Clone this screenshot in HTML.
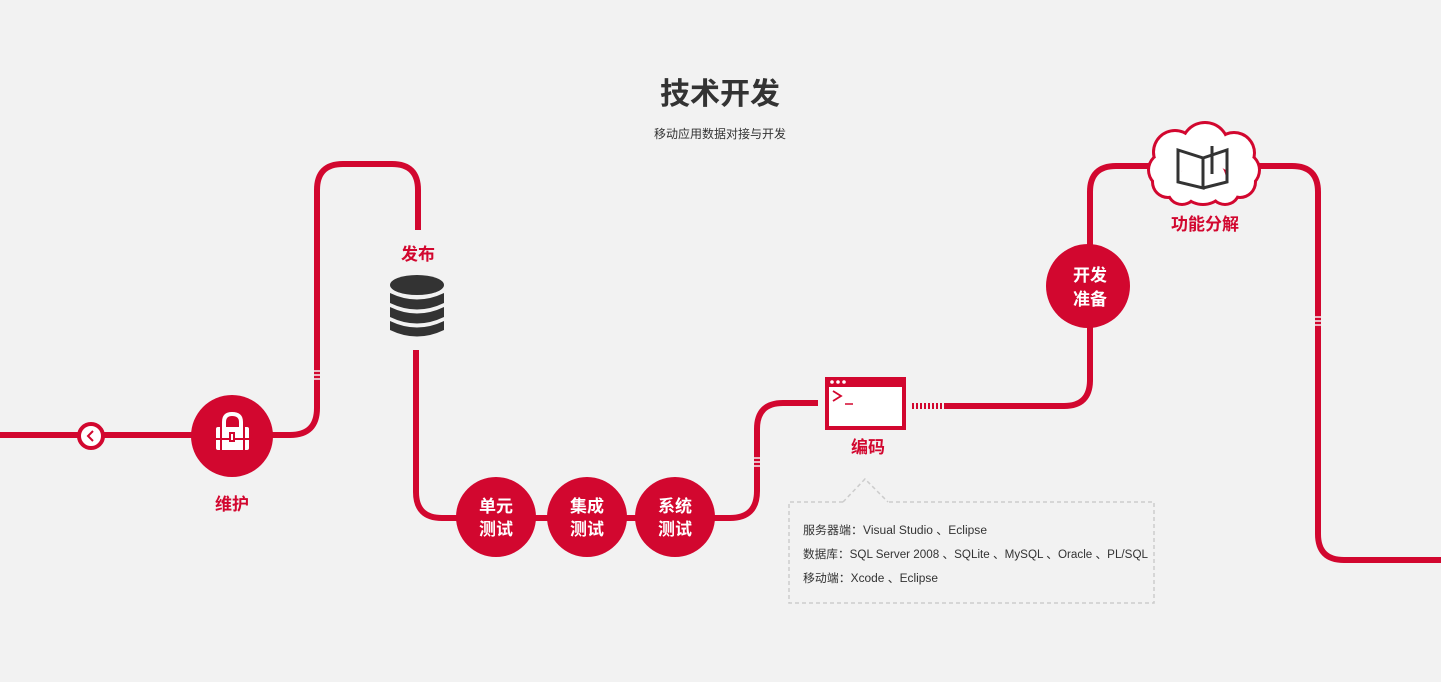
<!DOCTYPE html>
<html><head><meta charset="utf-8"><style>
html,body{margin:0;padding:0;background:#f2f2f2;}
svg{display:block;font-family:"Liberation Sans","Noto Sans CJK SC",sans-serif;}
</style></head><body>
<svg width="1441" height="682" viewBox="0 0 1441 682" xmlns="http://www.w3.org/2000/svg">
<rect width="1441" height="682" fill="#f2f2f2"/>
<text x="720" y="104" text-anchor="middle" font-size="30" fill="#333" font-weight="600">技术开发</text>
<text x="720" y="138" text-anchor="middle" font-size="12" fill="#333">移动应用数据对接与开发</text>
<g fill="none" stroke="#d2072f" stroke-width="6">
<path d="M0 435 H290 Q317 435 317 408 V190 Q317 164 343 164 H392 Q418 164 418 190 V230"/>
<path d="M416 350 V492 Q416 518 442 518 H730 Q757 518 757 491 V429 Q757 403 783 403 H818"/>
<path d="M944 406 H1064 Q1090 406 1090 380 V192 Q1090 166 1116 166 H1150"/>
<path d="M1258 166 H1292 Q1318 166 1318 192 V534 Q1318 560 1344 560 H1441"/>
</g>
<g stroke="#f2f2f2" stroke-width="1.5">
<path d="M313 371 H321 M313 375 H321 M313 379 H321"/>
<path d="M1314 317 H1322 M1314 321 H1322 M1314 325 H1322"/>
<path d="M753 458 H761 M753 462 H761 M753 466 H761"/>
</g>
<g stroke="#d2072f" stroke-width="6" stroke-dasharray="2 2"><path d="M912 406 H942"/></g>
<circle cx="91" cy="436" r="12" fill="#fff" stroke="#d2072f" stroke-width="4"/>
<path d="M93 431 L88 436 L93 441" fill="none" stroke="#d2072f" stroke-width="2"/>
<circle cx="232" cy="436" r="41" fill="#d2072f"/>
<rect x="216" y="427" width="33" height="23" rx="2" fill="#fff"/>
<path d="M224 428 V422 Q224 414 232 414 Q241 414 241 422 V428" fill="none" stroke="#fff" stroke-width="4"/>
<path d="M221 427 V450 M244 427 V450 M216 439 H249" stroke="#d2072f" stroke-width="2"/>
<rect x="229" y="432" width="6" height="10" fill="#d2072f"/><rect x="231" y="434" width="2" height="6" fill="#fff"/>
<text x="232" y="510" text-anchor="middle" font-size="17" font-weight="bold" fill="#d2072f">维护</text>
<text x="418" y="260" text-anchor="middle" font-size="17" font-weight="bold" fill="#d2072f">发布</text>
<g fill="#333">
<ellipse cx="417" cy="285" rx="27" ry="10"/>
<path d="M390 293 Q417 306 444 293 V303 Q417 316 390 303Z"/>
<path d="M390 307 Q417 320 444 307 V317 Q417 330 390 317Z"/>
<path d="M390 321 Q417 334 444 321 V330 Q417 343 390 330Z"/>
</g>
<g fill="#d2072f"><circle cx="496" cy="517" r="40"/><circle cx="587" cy="517" r="40"/><circle cx="675" cy="517" r="40"/><circle cx="1088" cy="286" r="42"/></g>
<g fill="#fff" font-size="17" font-weight="bold" text-anchor="middle">
<text x="496" y="512">单元</text><text x="496" y="535">测试</text>
<text x="587" y="512">集成</text><text x="587" y="535">测试</text>
<text x="675" y="512">系统</text><text x="675" y="535">测试</text>
<text x="1090" y="281">开发</text><text x="1090" y="305">准备</text>
</g>
<rect x="827" y="379" width="77" height="49" fill="#fff" stroke="#d2072f" stroke-width="4"/>
<rect x="825" y="377" width="81" height="10" fill="#d2072f"/>
<g fill="#fff"><circle cx="832" cy="382" r="1.8"/><circle cx="838" cy="382" r="1.8"/><circle cx="844" cy="382" r="1.8"/></g>
<path d="M833 391 L841 396 L833 401" fill="none" stroke="#d2072f" stroke-width="1.8"/>
<path d="M845 404 H853" stroke="#d2072f" stroke-width="1.5"/>
<text x="868" y="453" text-anchor="middle" font-size="17" font-weight="bold" fill="#d2072f">编码</text>
<path d="M843 502 L865 479 L888 502" fill="none" stroke="#ccc" stroke-width="1.5" stroke-dasharray="4 3"/>
<path d="M843 502 H789 V603 H1154 V502 H888" fill="none" stroke="#ccc" stroke-width="1.5" stroke-dasharray="4 3"/>
<g font-size="11.5" fill="#333">
<text x="803" y="534" textLength="184" lengthAdjust="spacingAndGlyphs">服务器端：Visual Studio 、Eclipse</text>
<text x="803" y="558" textLength="345" lengthAdjust="spacingAndGlyphs">数据库：SQL Server 2008 、SQLite 、MySQL 、Oracle 、PL/SQL</text>
<text x="803" y="582" textLength="135" lengthAdjust="spacingAndGlyphs">移动端：Xcode 、Eclipse</text>
</g>
<g fill="#d2072f">
<circle cx="1175" cy="152" r="23"/><circle cx="1205" cy="146" r="25"/><circle cx="1234" cy="153" r="22"/>
<circle cx="1166" cy="170" r="19"/><circle cx="1242" cy="170" r="19"/><circle cx="1168" cy="182" r="17"/><circle cx="1240" cy="182" r="17"/><circle cx="1203" cy="180" r="26"/>
<circle cx="1182" cy="190" r="16"/><circle cx="1225" cy="190" r="16"/>
</g>
<g fill="#fff">
<circle cx="1175" cy="152" r="20"/><circle cx="1205" cy="146" r="22"/><circle cx="1234" cy="153" r="19"/>
<circle cx="1166" cy="170" r="16"/><circle cx="1242" cy="170" r="16"/><circle cx="1168" cy="182" r="14"/><circle cx="1240" cy="182" r="14"/><circle cx="1203" cy="180" r="23"/>
<circle cx="1182" cy="190" r="13"/><circle cx="1225" cy="190" r="13"/>
</g>
<g fill="none" stroke="#333" stroke-width="3">
<path d="M1178 150 L1203 158 V188 L1178 182Z"/>
<path d="M1203 158 L1227 150 V182 L1203 188"/>
<path d="M1212 146 V174"/>
</g>
<text x="1205" y="230" text-anchor="middle" font-size="17" font-weight="bold" fill="#d2072f">功能分解</text>
</svg>
</body></html>
